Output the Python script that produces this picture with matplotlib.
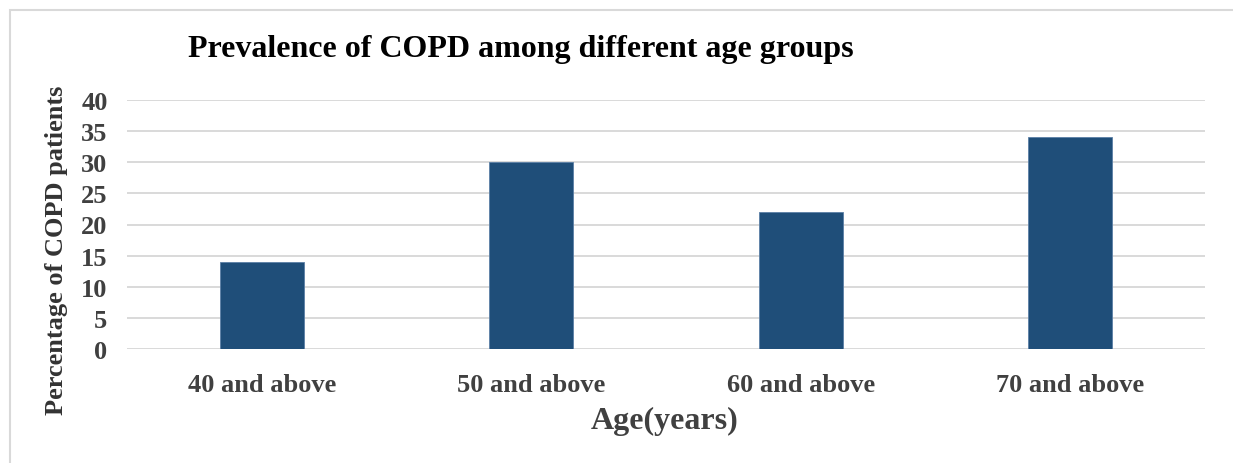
import matplotlib.pyplot as plt
from matplotlib.patches import Rectangle

categories = ["40 and above", "50 and above", "60 and above", "70 and above"]
values = [14, 30, 22, 34]
yticks = [0, 5, 10, 15, 20, 25, 30, 35, 40]

plt.rcParams['font.family'] = ['Liberation Serif', 'DejaVu Serif']
plt.rcParams['font.weight'] = 'bold'

W, H, DPI = 1233, 464, 100
fig = plt.figure(figsize=(W / DPI, H / DPI), dpi=DPI)

# outer chart frame
fig.patches.append(Rectangle((10 / W, -0.1), 1.2, 1 - 11 / H + 0.1,
                             transform=fig.transFigure, fill=False,
                             edgecolor='#D9D9D9', linewidth=1.5))

ax = fig.add_axes([127 / W, 1 - 350 / H, (1205 - 127) / W, (350 - 101) / H])
x = range(len(categories))
ax.bar(x, values, width=0.31, color='#1F4E79', edgecolor='#5B7FA6', linewidth=0.6, zorder=3)

ax.set_xlim(-0.5, len(categories) - 0.5)
ax.set_ylim(0, 40)
ax.set_yticks(yticks)
ax.set_xticks(list(x))
ax.set_xticklabels(categories)
ax.grid(axis='y', color='#D9D9D9', linewidth=1.4, zorder=0)
for s in ax.spines.values():
    s.set_visible(False)
ax.tick_params(length=0, labelsize=19, colors='#404040')
ax.tick_params(axis='y', pad=14)
ax.tick_params(axis='x', pad=17)
for lbl in ax.get_xticklabels() + ax.get_yticklabels():
    lbl.set_fontweight('bold')

fig.text(188 / W, 1 - 49 / H, "Prevalence of COPD among different age groups",
         fontsize=23, fontweight='bold', color='black', ha='left', va='center')
fig.text(665 / W, 1 - 421 / H, "Age(years)", fontsize=23, fontweight='bold',
         color='#404040', ha='center', va='center')
fig.text(57 / W, 1 - 250 / H, "Percentage of COPD patients", fontsize=19,
         fontweight='bold', color='#333333', ha='center', va='center', rotation=90)

fig.savefig("out.png", dpi=DPI)
